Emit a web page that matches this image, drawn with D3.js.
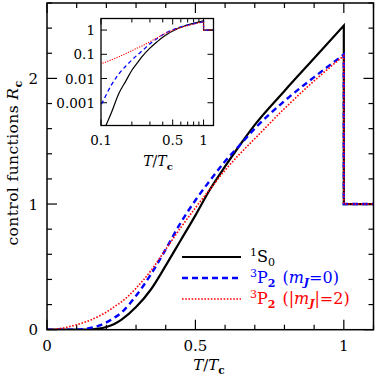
<!DOCTYPE html>
<html>
<head>
<meta charset="utf-8">
<script src="https://cdn.jsdelivr.net/npm/d3@7"></script>
<style>
  body { margin: 0; background: #fff; }
  svg { display: block; font-family: "DejaVu Serif", serif; }
</style>
</head>
<body>
<div id="chart"></div>
<script>
// T / Tc grid (the step at Tc is the repeated 1.0)
let tValues = [0, 0.02, 0.05, 0.1, 0.125, 0.15, 0.175, 0.2, 0.225, 0.25, 0.3, 0.35, 0.4, 0.45, 0.5, 0.55, 0.6, 0.65, 0.7, 0.8, 0.9, 1.0, 1.0, 1.3];
// control functions Rc
let s0Values  = [0, 0, 1e-7, 4e-5, 3.5e-4, 2.5e-3, 8e-3, 0.022, 0.043, 0.078, 0.18, 0.32, 0.51, 0.71, 0.91, 1.12, 1.30, 1.47, 1.63, 1.90, 2.16, 2.42, 1, 1];
let p2m0Values = [0, 1e-8, 1e-5, 8e-4, 5e-3, 0.016, 0.033, 0.058, 0.092, 0.135, 0.27, 0.44, 0.64, 0.85, 1.03, 1.19, 1.34, 1.47, 1.60, 1.82, 2.01, 2.19, 1, 1];
let p2m2Values = [0, 0.002, 0.011, 0.04, 0.058, 0.08, 0.108, 0.14, 0.18, 0.22, 0.33, 0.47, 0.64, 0.81, 0.97, 1.12, 1.27, 1.40, 1.52, 1.76, 1.98, 2.18, 1, 1];

let xTicks = [0, 0.5, 1];
let yTicks = [0, 1, 2];
let insetXTicks = [0.1, 0.5, 1];
let insetYTicks = [1, 0.1, 0.01, 0.001];
let insetYLabels = ["1", "0.1", "0.01", "0.001"];

let series = [
    {name: "s0", values: s0Values, color: "#000", dash: null, width: 2.2, insetDash: null, insetWidth: 1.2},
    {name: "p2m0", values: p2m0Values, color: "#0000ff", dash: "6,4", width: 2.4, insetDash: "4,3", insetWidth: 1.3},
    {name: "p2m2", values: p2m2Values, color: "#ff0000", dash: "1.6,1.6", width: 1.6, insetDash: "1.2,1.3", insetWidth: 1.1}
];

// smooth part below Tc, straight step above it
function curvePath(xs, ys, vals, defined) {
    let pts = tValues.map((t, i) => [t, vals[i]]).filter(defined);
    let firstTc = pts.findIndex(p => p[0] === 1);
    let below = pts.slice(0, firstTc + 1);
    let above = pts.slice(firstTc);
    let smooth = d3.line().curve(d3.curveMonotoneX).x(d => xs(d[0])).y(d => ys(d[1]));
    let straight = d3.line().x(d => xs(d[0])).y(d => ys(d[1]));
    return smooth(below) + straight(above).replace(/^M/, "L");
}

function drawChart() {
    let svg = d3.select("#chart").append("svg")
        .attr("width", 376).attr("height", 376);

    let left = 47, right = 373.5, top = 3, bottom = 329.7;
    let x = d3.scaleLinear().domain([0, 1.1]).range([left, right]);
    let y = d3.scaleLinear().domain([0, 2.6]).range([bottom, top]);

    svg.append("clipPath").attr("id", "mainClip")
        .append("rect").attr("x", left).attr("y", top)
        .attr("width", right - left).attr("height", bottom - top);

    // ticks, inward on all four sides
    let ticks = svg.append("g").attr("stroke", "#000").attr("stroke-width", 1.2);
    d3.range(0, 1.1001, 0.1).forEach(function(t) {
        let major = Math.abs(t * 2 - Math.round(t * 2)) < 1e-6;
        let len = major ? 10 : 5;
        ticks.append("line").attr("x1", x(t)).attr("x2", x(t)).attr("y1", bottom).attr("y2", bottom - len);
        ticks.append("line").attr("x1", x(t)).attr("x2", x(t)).attr("y1", top).attr("y2", top + len);
    });
    d3.range(0, 2.6001, 0.2).forEach(function(v) {
        let major = Math.abs(v - Math.round(v)) < 1e-6;
        let len = major ? 10 : 5;
        ticks.append("line").attr("y1", y(v)).attr("y2", y(v)).attr("x1", left).attr("x2", left + len);
        ticks.append("line").attr("y1", y(v)).attr("y2", y(v)).attr("x1", right).attr("x2", right - len);
    });

    svg.selectAll(".xlab").data(xTicks).enter().append("text")
        .attr("x", d => x(d)).attr("y", 351)
        .attr("text-anchor", "middle").attr("font-size", 15)
        .text(d => d);
    svg.selectAll(".ylab").data(yTicks).enter().append("text")
        .attr("x", 38).attr("y", d => y(d) + 5.5)
        .attr("text-anchor", "end").attr("font-size", 15)
        .text(d => d);

    // axis titles
    let xt = svg.append("text").attr("x", 209).attr("y", 370)
        .attr("text-anchor", "middle").attr("font-size", 15);
    xt.append("tspan").attr("font-style", "italic").text("T");
    xt.append("tspan").text("/");
    xt.append("tspan").attr("font-style", "italic").text("T");
    xt.append("tspan").attr("font-size", 10.5).attr("dy", 3.5).attr("font-weight", "bold").text("c");

    let yt = svg.append("text")
        .attr("transform", "translate(18,163) rotate(-90)")
        .attr("text-anchor", "middle").attr("font-size", 15.5)
        .attr("letter-spacing", 0.4);
    yt.append("tspan").text("control functions ");
    yt.append("tspan").attr("font-style", "italic").text("R");
    yt.append("tspan").attr("font-size", 11).attr("dy", 4).attr("font-weight", "bold").text("c");

    // curves
    let plot = svg.append("g").attr("clip-path", "url(#mainClip)");
    series.forEach(function(s) {
        plot.append("path")
            .attr("d", curvePath(x, y, s.values, d => true))
            .attr("fill", "none").attr("stroke", s.color)
            .attr("stroke-width", s.width)
            .attr("stroke-dasharray", s.dash);
    });

    // frame
    svg.append("rect").attr("x", left).attr("y", top)
        .attr("width", right - left).attr("height", bottom - top)
        .attr("fill", "none").attr("stroke", "#000").attr("stroke-width", 1.5);

    // legend
    let legend = svg.append("g");
    let legendY = [257, 278, 299];
    series.forEach(function(s, i) {
        legend.append("line")
            .attr("x1", 182).attr("x2", 241).attr("y1", legendY[i]).attr("y2", legendY[i])
            .attr("stroke", s.color).attr("stroke-width", s.width)
            .attr("stroke-dasharray", s.dash);
    });
    let l1 = legend.append("text").attr("x", 250).attr("y", legendY[0] + 5).attr("font-size", 16);
    l1.append("tspan").attr("font-size", 11).attr("dy", -6).text("1");
    l1.append("tspan").attr("dy", 6).text("S");
    l1.append("tspan").attr("font-size", 11).attr("dy", 4).text("0");

    function p2Label(idx, open, close) {
        let t = legend.append("text").attr("x", 250).attr("y", legendY[idx] + 5)
            .attr("font-size", 16).attr("fill", series[idx].color);
        t.append("tspan").attr("font-size", 11).attr("dy", -6).text("3");
        t.append("tspan").attr("dy", 6).text("P");
        t.append("tspan").attr("font-size", 11).attr("dy", 4).attr("font-weight", "bold").text("2");
        t.append("tspan").attr("dy", -4).attr("dx", 7).text(open);
        t.append("tspan").attr("font-style", "italic").text("m");
        t.append("tspan").attr("font-size", 11).attr("dy", 3).attr("font-style", "italic").attr("font-weight", "bold").text("J");
        t.append("tspan").attr("dy", -3).text(close);
    }
    p2Label(1, "(", "=0)");
    p2Label(2, "(|", "|=2)");

    drawInset(svg);
}

function drawInset(svg) {
    let left = 101, right = 213.5, top = 18.5, bottom = 125.5;
    let xi = d3.scaleLog().domain([0.1, 1.25]).range([left, right]);
    let yi = d3.scaleLog().domain([1.15e-4, 3]).range([bottom, top]);

    svg.append("rect").attr("x", left).attr("y", top)
        .attr("width", right - left).attr("height", bottom - top).attr("fill", "#fff");
    svg.append("clipPath").attr("id", "insetClip")
        .append("rect").attr("x", left).attr("y", top)
        .attr("width", right - left).attr("height", bottom - top);

    let g = svg.append("g");
    let tk = g.append("g").attr("stroke", "#000").attr("stroke-width", 1);
    d3.range(1, 11).map(d => d / 10).forEach(function(t) {
        let len = (t === 0.1 || t === 0.5 || t === 1) ? 6 : 4;
        tk.append("line").attr("x1", xi(t)).attr("x2", xi(t)).attr("y1", bottom).attr("y2", bottom - len);
        tk.append("line").attr("x1", xi(t)).attr("x2", xi(t)).attr("y1", top).attr("y2", top + len);
    });
    insetYTicks.forEach(function(v) {
        tk.append("line").attr("y1", yi(v)).attr("y2", yi(v)).attr("x1", left).attr("x2", left + 6);
        tk.append("line").attr("y1", yi(v)).attr("y2", yi(v)).attr("x1", right).attr("x2", right - 6);
    });

    g.selectAll(".ixl").data(insetXTicks).enter().append("text")
        .attr("x", d => xi(d)).attr("y", 145)
        .attr("text-anchor", "middle").attr("font-size", 13.5)
        .text(d => d);
    g.selectAll(".iyl").data(insetYTicks).enter().append("text")
        .attr("x", 95).attr("y", d => yi(d) + 5)
        .attr("text-anchor", "end").attr("font-size", 13.5)
        .text((d, i) => insetYLabels[i]);

    let xt = g.append("text").attr("x", 158).attr("y", 166)
        .attr("text-anchor", "middle").attr("font-size", 14);
    xt.append("tspan").attr("font-style", "italic").text("T");
    xt.append("tspan").text("/");
    xt.append("tspan").attr("font-style", "italic").text("T");
    xt.append("tspan").attr("font-size", 10).attr("dy", 3.5).attr("font-weight", "bold").text("c");

    let plot = g.append("g").attr("clip-path", "url(#insetClip)");
    series.forEach(function(s) {
        plot.append("path")
            .attr("d", curvePath(xi, yi, s.values, d => d[0] > 0 && d[1] > 0))
            .attr("fill", "none").attr("stroke", s.color)
            .attr("stroke-width", s.insetWidth)
            .attr("stroke-dasharray", s.insetDash);
    });

    g.append("rect").attr("x", left).attr("y", top)
        .attr("width", right - left).attr("height", bottom - top)
        .attr("fill", "none").attr("stroke", "#000").attr("stroke-width", 1.3);
}

drawChart();
</script>
</body>
</html>
